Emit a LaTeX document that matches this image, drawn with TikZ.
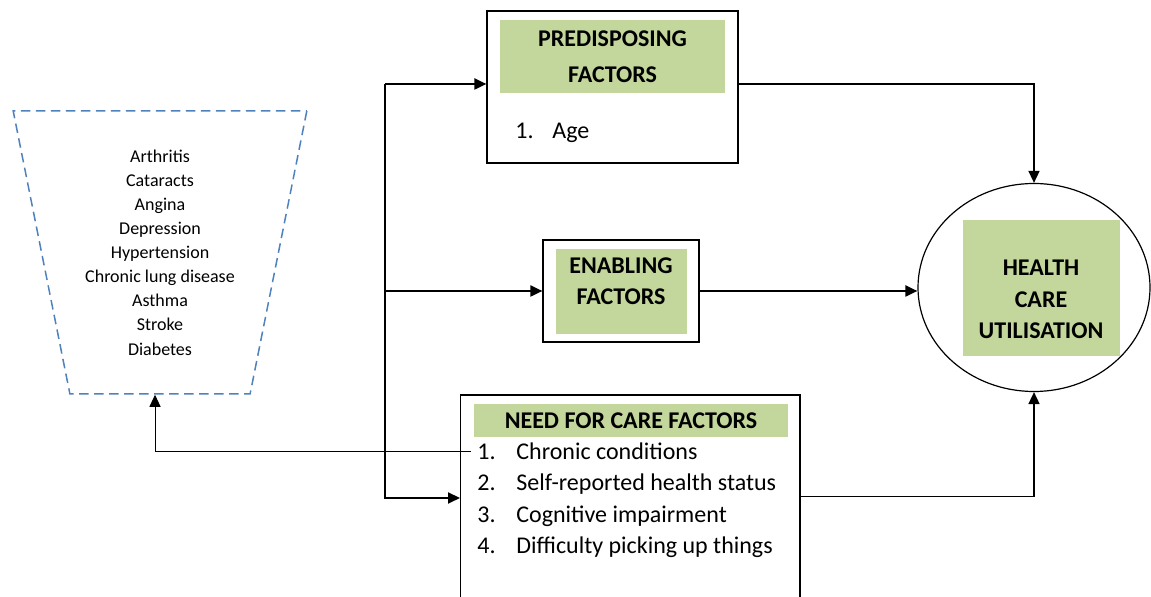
\documentclass[tikz,border=0pt]{standalone}
\usepackage{fontspec}
\setmainfont{Carlito}
\usetikzlibrary{shapes.geometric,arrows.meta,positioning}
\definecolor{headgreen}{RGB}{195,214,155}
\definecolor{dashblue}{RGB}{79,129,189}
\tikzset{
  box/.style={draw, line width=0.6pt, rectangle, inner sep=0pt},
  head/.style={fill=headgreen, inner sep=0pt},
  headtext/.style={inner sep=0pt, align=center, font=\fontsize{12}{15.6}\selectfont\bfseries},
  item/.style={inner sep=0pt, anchor=base west, font=\fontsize{12}{15}\selectfont},
  link/.style={line width=1pt, -{Triangle[length=6pt,width=5.5pt]}},
  thinlink/.style={line width=0.5pt, -{Triangle[length=6pt,width=5.5pt]}},
}

\begin{document}
\begin{tikzpicture}[x=0.5pt,y=-0.5pt]
  \useasboundingbox (0,0) rectangle (1151,597);

  % chronic conditions
  \node (conds) [trapezium, trapezium angle=76.8, trapezium stretches=true,
                 shape border rotate=180, minimum width=147pt, minimum height=141.5pt,
                 draw=dashblue, line width=0.75pt, dash pattern=on 4.8pt off 2.7pt,
                 align=center, font=\fontsize{9}{12.05}\selectfont]
                 at (160,252.5)
                 {Arthritis\\Cataracts\\Angina\\Depression\\Hypertension\\
                  Chronic lung disease\\Asthma\\Stroke\\Diabetes};

  % predisposing
  \node (predisp)     [box, minimum width=125.5pt, minimum height=76pt] at (612.5,87) {};
  \node (predisphead) [head, headtext, minimum width=112.5pt, minimum height=36.5pt,
                       font=\fontsize{12}{18}\selectfont\bfseries,
                       below=4.5pt of predisp.north] {PREDISPOSING\\FACTORS};
  \node (age)         [item] at (515,139) {\makebox[18.5pt][l]{1.}Age};

  % enabling
  \node (enab)     [box, minimum width=78pt, minimum height=51pt] at (621,291) {};
  \node (enabhead) [head, minimum width=65.5pt, minimum height=42.5pt] at (621.2,291.5) {};
  \node (enabtext) [headtext] at (621,281.5) {ENABLING\\FACTORS};

  % utilisation
  \node (hcu)     [ellipse, draw, line width=0.6pt, inner sep=0pt,
                   minimum width=116pt, minimum height=104pt] at (1034,287.5) {};
  \node (hcuhead) [head, minimum width=78.7pt, minimum height=67.8pt] at (1041.3,287.9) {};
  \node (hcutext) [headtext] at (1041,299.5) {HEALTH\\CARE\\UTILISATION};

  % need for care
  \node (need)     [box, minimum width=169.7pt, minimum height=122.5pt] at (630.3,517.5) {};
  \node (needhead) [head, headtext, minimum width=156.7pt, minimum height=16.3pt]
                   at (631,420.3) {NEED FOR CARE FACTORS};
  \node (need1) [item] at (477,460)   {\makebox[19.5pt][l]{1.}Chronic conditions};
  \node (need2) [item] at (477,491)   {\makebox[19.5pt][l]{2.}Self-reported health status};
  \node (need3) [item] at (477,522.5) {\makebox[19.5pt][l]{3.}Cognitive impairment};
  \node (need4) [item] at (477,554)   {\makebox[19.5pt][l]{4.}Difficulty picking up things};

  % connectors
  \coordinate (bustop) at (385,84);
  \coordinate (busbot) at (385,498);
  \draw[link] (bustop) -- (bustop -| predisp.west);
  \draw[link] (bustop) -- (busbot) -- (busbot -| need.west);
  \draw[link] (bustop |- enab.west) -- (enab.west);

  \draw[link, line width=0.8pt] ([yshift=1.5pt]predisp.east) -| (hcu.north);
  \draw[link] (enab.east) -- (enab.east -| hcu.west);
  \draw[link, line width=0.8pt] ([yshift=-51pt]need.north east) -| (hcu.south);

  \draw[thinlink] ([xshift=-3pt]need1.west) -| ([xshift=-2.5pt]conds.south);
\end{tikzpicture}
\end{document}
